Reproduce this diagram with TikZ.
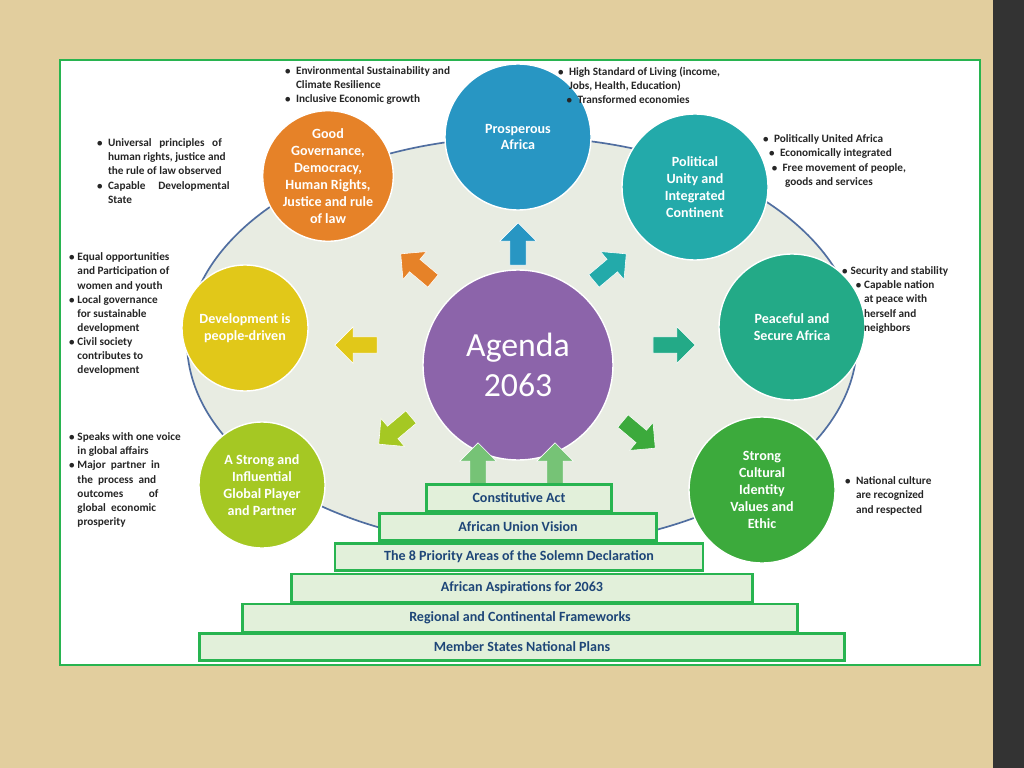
\documentclass[tikz,border=0pt]{standalone}
\usepackage{fontspec}
\setmainfont{Carlito}
\usetikzlibrary{shapes.arrows, shapes.geometric}
\definecolor{tan}{RGB}{226,206,158}
\definecolor{frame}{RGB}{40,180,80}
\definecolor{pale}{RGB}{232,236,226}
\definecolor{ring}{RGB}{80,110,160}
\definecolor{stepfill}{RGB}{226,240,218}
\definecolor{steptxt}{RGB}{30,70,120}
\definecolor{cpurple}{RGB}{140,100,170}
\definecolor{cblue}{RGB}{40,150,195}
\definecolor{cteal}{RGB}{35,170,170}
\definecolor{cseag}{RGB}{35,170,135}
\definecolor{cgreen}{RGB}{60,170,60}
\definecolor{clime}{RGB}{165,200,35}
\definecolor{cyell}{RGB}{225,200,25}
\definecolor{corange}{RGB}{230,130,40}

\begin{document}
\begin{tikzpicture}[
    x=0.025cm, y=-0.025cm,
    goal/.style = {circle, minimum size=#1*0.025cm, draw=white, line width=1pt,
                   text=white, font=\bfseries\fontsize{10}{12}\selectfont, align=center, inner sep=0pt},
    blockarrow/.style = {single arrow, draw=white, fill=#1, minimum width=26pt,
                         minimum height=30pt, single arrow head extend=4pt, inner sep=3pt},
    stepbox/.style = {draw=frame, line width=1.5pt, fill=stepfill, text=steptxt,
                      font=\bfseries\fontsize{10}{12}\selectfont, inner sep=0pt},
    notes/.style = {align=left, font=\bfseries\fontsize{8}{10}\selectfont, text=black!85},
    ]

  \useasboundingbox (0,0) rectangle (1024,768);
  \fill[tan] (0,0) rectangle (1024,768);
  \fill[black!80] (993,0) rectangle (1024,768);
  \fill[white] (60,60) rectangle (980,665);
  \draw[frame, line width=2pt] (60,60) rectangle (980,665);

  % ring behind the goals
  \node[ellipse, draw=ring, line width=1.2pt, fill=pale, minimum width=670*0.025cm,
        minimum height=410*0.025cm] (ring) at (522,342) {};

  % goals
  \node[goal=190, fill=cpurple, font=\fontsize{24}{28}\selectfont] (agenda) at (518,365) {Agenda\\2063};
  \node[goal=146, fill=cblue] (prosper) at (518,137) {Prosperous\\Africa};
  \node[goal=146, fill=cteal] (unity) at (695,187) {Political\\Unity and\\Integrated\\Continent};
  \node[goal=146, fill=cseag] (peace) at (792,327) {Peaceful and\\Secure Africa};
  \node[goal=146, fill=cgreen] (culture) at (762,490) {Strong\\Cultural\\Identity\\Values and\\Ethic};
  \node[goal=126, fill=clime] (global) at (262,485) {A Strong and\\Influential\\Global Player\\and Partner};
  \node[goal=126, fill=cyell] (people) at (245,328) {Development is\\people-driven};
  \node[goal=124, fill=corange] (govern) at (328,176) {Good\\Governance,\\Democracy,\\Human Rights,\\Justice and rule\\of law};

  % arrows out of the centre
  \node[blockarrow=cblue, rotate=90] (a1) at (518,248) {};
  \node[blockarrow=cteal, rotate=40] (a2) at (607,270) {};
  \node[blockarrow=cseag, rotate=0] (a3) at (670,345) {};
  \node[blockarrow=cgreen, rotate=-40] (a4) at (636,432) {};
  \node[blockarrow=clime, rotate=-140] (a5) at (398,428) {};
  \node[blockarrow=cyell, rotate=180] (a6) at (360,345) {};
  \node[blockarrow=corange, rotate=140] (a7) at (420,270) {};
  \node[blockarrow=cgreen!70!white, rotate=90] (a8) at (478,468) {};
  \node[blockarrow=cgreen!70!white, rotate=90] (a9) at (555,468) {};

  % steps
  \node[stepbox, minimum width=185*0.025cm, minimum height=27*0.025cm] (s1) at (519,498) {Constitutive Act};
  \node[stepbox, minimum width=277*0.025cm, minimum height=27*0.025cm] (s2) at (518,527) {African Union Vision};
  \node[stepbox, minimum width=368*0.025cm, minimum height=27*0.025cm] (s3) at (519,557) {The 8 Priority Areas of the Solemn Declaration};
  \node[stepbox, minimum width=461*0.025cm, minimum height=28*0.025cm] (s4) at (522,588) {African Aspirations for 2063};
  \node[stepbox, minimum width=555*0.025cm, minimum height=28*0.025cm] (s5) at (520,618) {Regional and Continental Frameworks};
  \node[stepbox, minimum width=645*0.025cm, minimum height=27*0.025cm] (s6) at (522,647) {Member States National Plans};

  % notes
  \node[notes, anchor=north west] (n1) at (280,62) {$\bullet$\ \ Environmental Sustainability and\\\phantom{$\bullet$\ \ }Climate Resilience\\$\bullet$\ \ Inclusive Economic growth};
  \node[notes, anchor=north west] (n2) at (553,62) {$\bullet$\ \ High Standard of Living (income,\\\phantom{$\bullet$\ \ }Jobs, Health, Education)\\\phantom{$\bullet$\ }$\bullet$\ \ Transformed economies};
  \node[notes, anchor=north west] (n3) at (92,134) {$\bullet$\ \ Universal\ \ \ principles\ \ \ of\\\phantom{$\bullet$\ \ }human rights, justice and\\\phantom{$\bullet$\ \ }the rule of law observed\\$\bullet$\ \ Capable\ \ \ \ \ Developmental\\\phantom{$\bullet$\ \ }State};
  \node[notes, anchor=north west] (n4) at (758,130) {$\bullet$\ \ Politically United Africa\\\phantom{$\bullet$}$\bullet$\ \ Economically integrated\\\phantom{$\bullet$\ }$\bullet$\ \ Free movement of people,\\\phantom{$\bullet$\ \ $\bullet$\ \ }goods and services};
  \node[notes, anchor=north west] (n5) at (64,248) {$\bullet$ Equal opportunities\\\phantom{$\bullet$ }and Participation of\\\phantom{$\bullet$ }women and youth\\$\bullet$ Local governance\\\phantom{$\bullet$ }for sustainable\\\phantom{$\bullet$ }development\\$\bullet$ Civil society\\\phantom{$\bullet$ }contributes to\\\phantom{$\bullet$ }development};
  \node[notes, anchor=north west] (n6) at (837,262) {$\bullet$\ Security and stability\\\phantom{$\bullet$\ }\ \ $\bullet$\ Capable nation\\\phantom{$\bullet$\ \ \ $\bullet$\ }at peace with\\\phantom{$\bullet$\ \ \ $\bullet$\ }herself and\\\phantom{$\bullet$\ \ \ $\bullet$\ }neighbors};
  \node[notes, anchor=north west] (n7) at (64,428) {$\bullet$ Speaks with one voice\\\phantom{$\bullet$ }in global affairs\\$\bullet$ Major\ \ partner\ \ in\\\phantom{$\bullet$ }the\ \ process\ \ and\\\phantom{$\bullet$ }outcomes\ \ \ \ \ \ \ \ \ \ of\\\phantom{$\bullet$ }global\ \ economic\\\phantom{$\bullet$ }prosperity};
  \node[notes, anchor=north west] (n8) at (840,472) {$\bullet$\ \ National culture\\\phantom{$\bullet$\ \ }are recognized\\\phantom{$\bullet$\ \ }and respected};

\end{tikzpicture}
\end{document}
